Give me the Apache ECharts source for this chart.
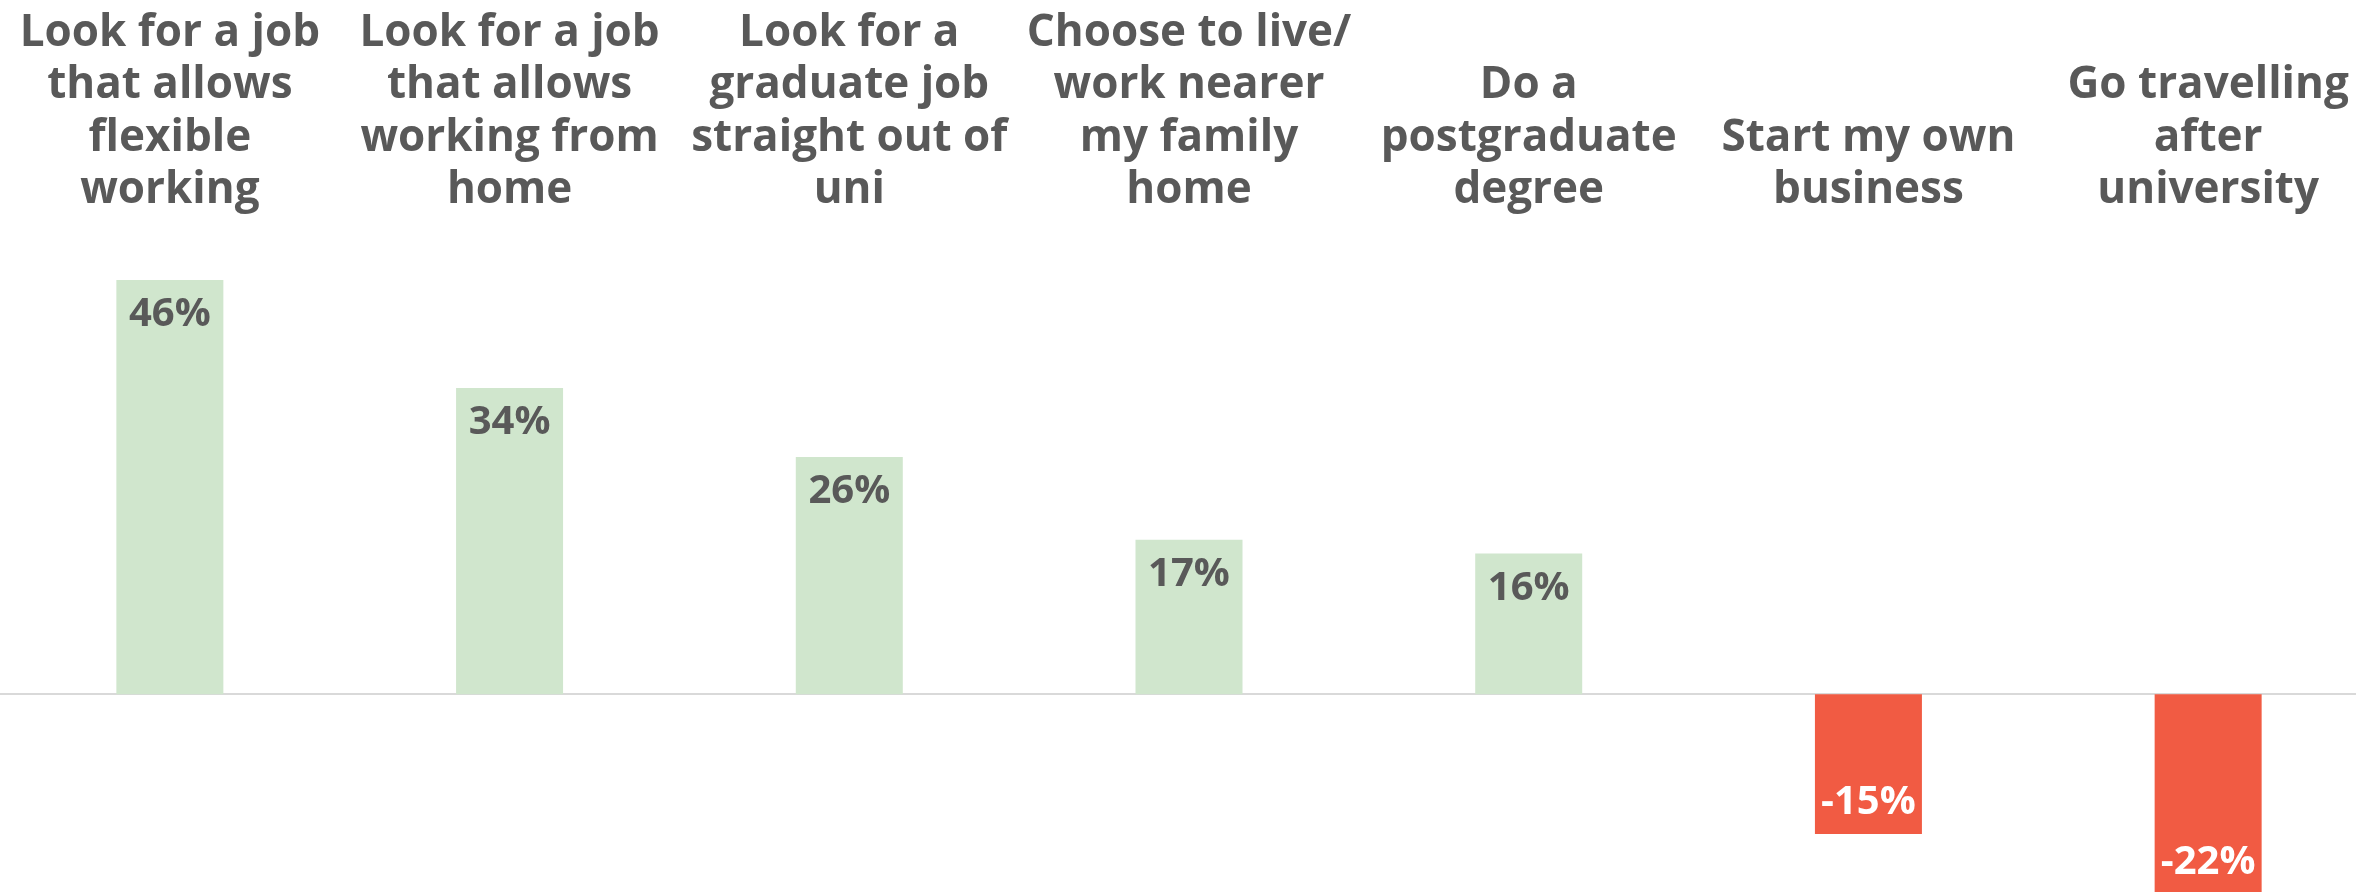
<!DOCTYPE html>
<html>
<head>
<meta charset="utf-8">
<script src="https://cdn.jsdelivr.net/npm/echarts@6/dist/echarts.min.js"></script>
<style>
html,body{margin:0;padding:0;background:#fff;overflow:hidden;}
#chart{width:2378px;height:894px;}
</style>
</head>
<body>
<div id="chart"></div>
<script>
var categories = [
  "Look for a job\nthat allows\nflexible\nworking",
  "Look for a job\nthat allows\nworking from\nhome",
  "Look for a\ngraduate job\nstraight out of\nuni",
  "Choose to live/\nwork nearer\nmy family\nhome",
  "Do a\npostgraduate\ndegree",
  "Start my own\nbusiness",
  "Go travelling\nafter\nuniversity"
];
var values = [45.6, 33.7, 26.1, 17.0, 15.5, -15.4, -22.0];

var GREEN = '#d0e6cd', RED = '#f15b43', TEXT = '#595959';
var FONT = '"Open Sans", "DejaVu Sans", sans-serif';

var chart = echarts.init(document.getElementById('chart'), null, {renderer: 'canvas'});
chart.setOption({
  animation: false,
  backgroundColor: '#ffffff',
  grid: {left: 0, top: 240, right: 0, bottom: 0, containLabel: false},
  xAxis: [
    {
      type: 'category', data: categories, position: 'bottom',
      axisLine: {show: true, onZero: true, lineStyle: {color: '#d9d9d9', width: 2}},
      axisTick: {show: false}, axisLabel: {show: false}, splitLine: {show: false}
    },
    {
      type: 'category', data: categories, position: 'top',
      axisLine: {show: false, onZero: false}, axisTick: {show: false}, splitLine: {show: false},
      axisLabel: {
        show: true, interval: 0, hideOverlap: false, margin: 23,
        color: TEXT, fontFamily: FONT, fontWeight: 'bold', fontSize: 44, lineHeight: 52.5,
        align: 'center'
      }
    }
  ],
  yAxis: {
    type: 'value', min: -22, max: 50, show: false,
    splitLine: {show: false}
  },
  series: [{
    type: 'bar', xAxisIndex: 0, barWidth: 107,
    data: values.map(function (v) {
      var neg = v < 0;
      return {
        value: v,
        itemStyle: {color: neg ? RED : GREEN},
        label: {
          show: true,
          position: neg ? 'insideBottom' : 'insideTop',
          distance: neg ? 11 : 15,
          color: neg ? '#ffffff' : TEXT,
          fontFamily: FONT, fontWeight: 'bold', fontSize: 40,
          formatter: function (p) { return Math.round(p.value) + '%'; }
        }
      };
    })
  }]
});
</script>
</body>
</html>
